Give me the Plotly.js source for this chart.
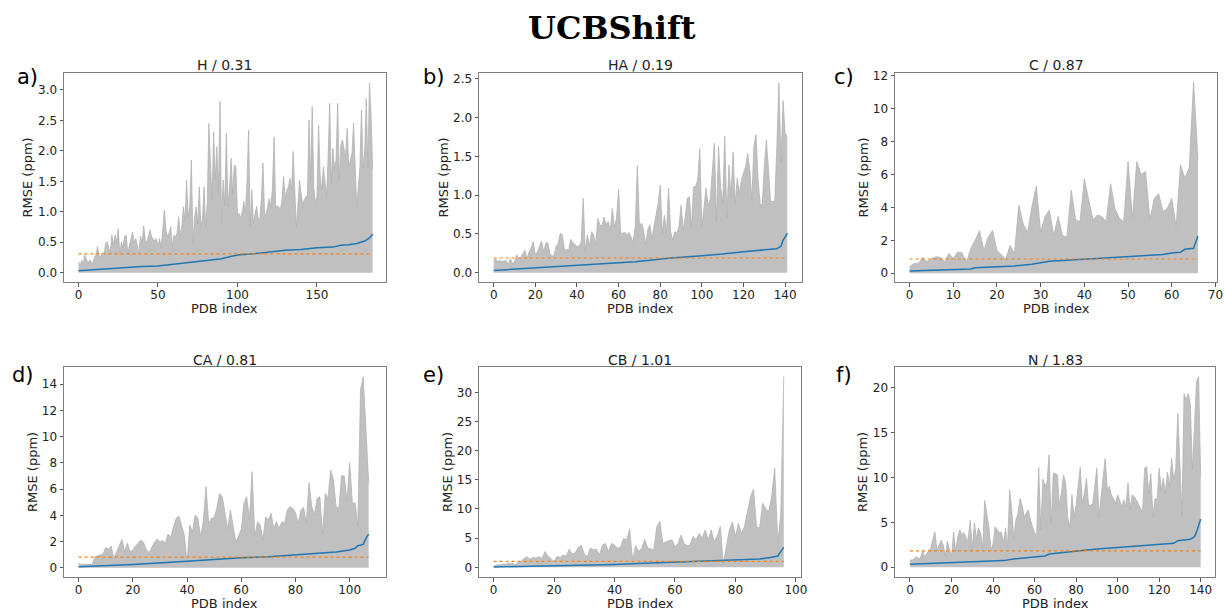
<!DOCTYPE html>
<html>
<head>
<meta charset="utf-8">
<script src="https://cdn.plot.ly/plotly-3.0.1.min.js"></script>
<style>html,body{margin:0;padding:0;background:#fff}#chart{width:1224px;height:610px}</style>
</head>
<body>
<div id="chart"></div>
<script>
// ---------------- DATA ----------------
const panelNames = ["H", "HA", "C", "CA", "CB", "N"];
const panelLetters = ["a)", "b)", "c)", "d)", "e)", "f)"];
const overallMean = [0.31, 0.19, 0.87, 0.81, 1.01, 1.83];

// upper envelope (max RMSE) per PDB index
const upperH = [
0.18,0.12,0.20,0.15,0.29,0.22,0.15,0.21,0.18,0.15,
0.25,0.30,0.43,0.26,0.28,0.33,0.25,0.48,0.51,0.40,
0.32,0.62,0.45,0.62,0.50,0.72,0.32,0.50,0.42,0.59,
0.62,0.32,0.45,0.52,0.67,0.49,0.56,0.45,0.32,0.60,
0.48,0.77,0.54,0.50,0.62,0.70,0.59,0.55,0.52,0.56,
0.43,0.56,0.40,0.70,1.03,0.70,0.59,0.65,0.76,0.43,
0.62,0.58,0.65,0.92,0.60,0.76,1.08,0.86,1.52,0.90,
1.11,1.85,0.48,0.90,1.08,0.80,1.41,0.73,0.90,1.41,
0.76,1.14,2.45,1.80,1.20,2.31,1.52,2.07,1.30,2.81,
0.81,1.52,1.10,2.29,1.08,1.40,1.88,1.30,1.77,1.74,
0.95,0.97,0.90,1.00,1.17,0.97,1.50,2.34,0.76,1.36,
0.81,0.95,1.09,0.90,0.86,1.20,1.80,1.00,0.92,1.10,
1.22,1.08,1.40,2.23,1.06,1.10,1.08,1.03,1.20,1.58,
1.20,1.36,1.40,1.55,1.36,1.99,1.20,0.76,1.10,1.52,
1.30,1.11,1.20,1.25,1.28,2.51,1.52,2.73,1.40,1.14,
1.25,2.42,1.60,1.36,1.74,1.50,1.25,1.90,2.78,1.47,
2.04,1.70,1.85,2.78,1.52,2.10,2.18,2.04,1.90,2.37,
1.74,1.85,1.96,2.45,1.71,1.08,1.40,1.74,2.67,1.71,
2.00,2.86,1.71,3.11,2.60,1.70];
const upperHA = [
0.16,0.18,0.14,0.16,0.14,0.15,0.16,0.10,0.18,0.12,
0.14,0.23,0.18,0.20,0.25,0.29,0.18,0.27,0.32,0.40,
0.23,0.27,0.34,0.41,0.27,0.38,0.39,0.25,0.21,0.23,
0.34,0.38,0.51,0.49,0.29,0.30,0.29,0.43,0.39,0.36,
0.34,0.34,0.40,0.96,0.27,0.49,0.34,0.53,0.49,0.36,
0.70,0.62,0.60,0.72,0.62,0.66,0.55,0.83,0.59,0.70,
1.08,0.51,0.51,0.52,0.49,0.52,0.45,0.40,0.59,1.38,
0.60,0.64,0.55,0.36,0.55,0.62,0.44,0.59,0.77,0.90,
1.13,0.51,0.74,0.51,1.09,0.53,0.42,0.53,0.51,0.60,
0.87,0.55,0.72,0.96,0.98,0.59,1.11,1.11,1.20,1.60,
0.59,0.89,1.09,0.87,0.94,1.30,1.67,0.66,1.63,1.11,
0.89,1.76,0.70,1.39,0.98,1.56,0.89,1.22,1.02,1.20,
1.28,1.37,1.54,1.33,0.94,1.63,1.78,1.20,0.89,0.87,
1.37,1.71,1.33,0.92,0.92,0.92,1.60,2.45,1.43,2.22,
1.80,1.75];
const upperC = [
0.40,0.60,0.60,0.97,0.70,0.90,1.00,0.97,0.70,1.20,
0.90,1.30,1.25,0.65,1.50,2.00,2.60,1.40,2.20,2.60,
1.40,1.10,0.85,1.70,1.20,4.15,3.00,2.50,4.05,5.30,
2.50,3.45,3.85,2.30,3.45,2.30,2.20,5.05,3.25,3.15,
5.75,4.45,3.25,3.55,3.45,3.15,5.45,3.95,3.35,3.15,
6.80,3.35,6.80,6.00,6.20,3.25,4.55,4.85,3.75,3.95,
4.55,2.85,6.60,5.80,6.40,11.65,6.90];
const upperCA = [
0.33,0.25,0.27,0.28,0.26,0.25,0.84,0.90,0.97,1.04,
1.55,1.40,1.65,0.71,1.22,1.73,2.16,1.22,1.86,1.22,
1.35,1.65,1.90,2.11,1.91,1.35,1.15,1.60,1.95,2.19,
1.98,2.06,1.86,2.57,2.32,3.13,3.77,3.94,3.26,2.49,
0.33,3.26,2.75,4.02,3.77,2.37,3.51,6.18,3.38,3.77,
3.82,4.53,5.67,5.42,4.15,2.93,4.40,3.13,1.93,2.42,
2.93,4.91,5.42,3.64,7.33,2.37,3.51,3.26,2.11,3.89,
3.64,4.15,3.00,3.51,3.00,3.51,3.38,4.40,4.66,4.53,
4.20,3.38,4.40,4.61,3.38,6.49,4.66,4.02,5.29,5.42,
2.57,5.67,5.29,7.46,6.69,4.66,4.53,7.02,7.00,5.04,
8.02,4.91,4.96,3.13,13.56,14.58,10.00,6.50];
const upperCB = [
0.2,0.4,0.45,0.5,0.6,0.7,0.7,0.5,0.7,1.0,
1.5,1.8,1.4,1.7,1.6,1.8,1.5,2.7,1.9,1.5,
1.0,1.9,1.7,2.1,1.9,3.1,2.3,2.5,3.4,3.8,
2.3,1.8,3.3,3.0,3.1,2.1,3.8,4.1,2.7,4.1,
3.8,3.3,3.5,5.0,4.7,6.5,1.3,3.7,2.7,3.3,
4.8,3.3,3.1,3.0,7.0,7.9,4.1,4.4,4.6,4.7,
3.5,4.1,5.5,4.1,3.7,3.8,5.3,4.7,5.8,5.0,
6.4,4.7,6.4,4.4,5.4,7.0,0.4,3.5,6.4,7.8,
5.3,7.5,5.8,7.0,9.5,12.1,13.4,7.0,6.7,11.0,
10.1,9.5,12.1,17.0,4.1,9.0,32.7];
const upperN = [
0.8,0.8,0.9,1.2,1.0,1.0,1.85,1.2,1.5,1.75,
2.1,3.1,3.95,1.9,2.4,3.0,2.5,1.2,2.9,1.9,
1.2,3.95,1.75,3.4,4.15,3.6,3.85,3.3,3.0,5.2,
1.9,4.95,3.2,4.35,3.8,2.1,7.4,6.0,4.5,1.9,
2.6,4.5,4.2,3.85,3.95,2.65,4.35,2.3,8.6,6.4,
3.2,5.25,6.0,7.65,6.9,5.6,6.0,6.4,5.25,4.5,
3.8,3.6,11.1,4.15,9.8,9.0,9.45,12.5,4.7,10.45,
10.45,10.25,6.75,8.5,10.25,9.35,5.45,4.5,8.05,5.6,
6.9,9.0,11.1,7.1,8.2,9.9,6.9,6.9,7.1,9.0,
11.0,5.6,7.85,9.5,12.1,8.6,9.0,8.0,7.65,7.1,
8.05,7.4,6.75,7.5,6.75,9.4,6.4,8.05,7.85,7.5,
7.0,6.55,6.1,11.0,11.2,8.2,10.45,5.6,7.65,7.5,
11.0,8.6,9.9,8.2,10.6,9.0,12.1,9.7,11.0,17.1,
11.0,5.8,19.3,18.6,19.3,18.2,10.8,15.3,20.6,21.2,
10.0];

// sorted mean RMSE (blue line), read at these PDB indices
const meanIdxH = [0,10,20,30,40,50,60,70,80,90,95,100,110,120,130,140,150,160,165,170,175,180,183,185];
const meanH    = [0.03,0.05,0.07,0.085,0.10,0.11,0.14,0.17,0.19,0.23,0.26,0.29,0.31,0.34,0.37,0.38,0.41,0.42,0.45,0.46,0.48,0.52,0.57,0.63];
const meanIdxHA = [0,20,40,60,68,75,85,100,110,120,130,136,138,139,140,141];
const meanHA    = [0.03,0.06,0.09,0.12,0.14,0.16,0.19,0.22,0.24,0.27,0.29,0.31,0.34,0.42,0.46,0.51];
const meanIdxC = [0,10,14,15,20,24,28,30,32,36,40,44,48,52,56,58,60,62,63,65,66];
const meanC    = [0.14,0.24,0.26,0.34,0.39,0.45,0.55,0.63,0.73,0.79,0.85,0.93,0.97,1.01,1.08,1.14,1.24,1.28,1.46,1.52,2.27];
const meanIdxCA = [0,20,40,50,60,70,80,86,90,95,100,102,103,105,106,107];
const meanCA    = [0.08,0.25,0.50,0.64,0.76,0.84,0.99,1.04,1.09,1.20,1.35,1.48,1.68,1.78,2.24,2.57];
const meanIdxCB = [0,20,40,50,58,60,70,80,88,92,94,95,96];
const meanCB    = [0.06,0.23,0.50,0.70,0.86,0.97,1.09,1.26,1.43,1.71,1.94,2.69,3.43];
const meanIdxN = [0,20,45,50,60,65,67,75,80,90,100,110,120,127,129,135,137,138,140];
const meanN    = [0.33,0.52,0.74,0.93,1.11,1.26,1.48,1.67,1.85,2.04,2.19,2.37,2.56,2.67,2.96,3.11,3.40,3.93,5.37];

// tick values
const yTicks = [[0,0.5,1,1.5,2,2.5,3],[0,0.5,1,1.5,2,2.5],[0,2,4,6,8,10,12],[0,2,4,6,8,10,12,14],[0,5,10,15,20,25,30],[0,5,10,15,20]];
const xTicks = [[0,50,100,150],[0,20,40,60,80,100,120,140],[0,10,20,30,40,50,60,70],[0,20,40,60,80,100],[0,20,40,60,80,100],[0,20,40,60,80,100,120,140]];

// ---------------- LAYOUT / STYLE ----------------
const uppers = [upperH, upperHA, upperC, upperCA, upperCB, upperN];
const meanIdx = [meanIdxH, meanIdxHA, meanIdxC, meanIdxCA, meanIdxCB, meanIdxN];
const means = [meanH, meanHA, meanC, meanCA, meanCB, meanN];

const W = 1224, H = 610;
const px = (a, b) => [a / W, b / W];
const py = (top, bot) => [1 - bot / H, 1 - top / H];
const xDomains = [px(64,386), px(479,802), px(895,1217), px(64,386), px(479,801), px(895,1215)];
const yDomains = [py(73,282), py(73,282), py(73,282), py(367,577), py(367,577), py(367,577)];
const xRanges = [[-9.1,193.4],[-7.06,148.1],[-3.34,70.36],[-5.39,113.4],[-4.84,101.7],[-7.22,146.9]];
const yRanges = [[-0.153,3.279],[-0.120,2.577],[-0.53,12.18],[-0.71,15.32],[-1.66,34.34],[-1.08,22.26]];
const yFormats = ['.1f','.1f','d','d','d','d'];
const yTitleX = [27, 443, 863, 33, 448, 863];
const xTitleY = [308, 308, 308, 603, 603, 603];

const font = "DejaVu Sans, sans-serif";
const traces = [];
const layout = {
  width: W, height: H,
  margin: {l:0, r:0, t:0, b:0},
  paper_bgcolor: '#fff', plot_bgcolor: '#fff',
  showlegend: false,
  font: {family: font, size: 12, color: '#222'},
  annotations: []
};

for (let k = 0; k < 6; k++) {
  const s = k === 0 ? '' : String(k + 1);
  const xa = 'x' + s, ya = 'y' + s;
  const up = uppers[k];
  const idx = up.map((_, i) => i);
  traces.push({x: idx, y: up, xaxis: xa, yaxis: ya, type: 'scatter', mode: 'lines',
    fill: 'tozeroy', fillcolor: '#c0c0c0', line: {color: '#b2b2b2', width: 0.8}, hoverinfo: 'skip'});
  traces.push({x: meanIdx[k], y: means[k], xaxis: xa, yaxis: ya, type: 'scatter', mode: 'lines',
    line: {color: '#1f77b4', width: 1.5}});
  const last = up.length - 1;
  traces.push({x: [0, last], y: [overallMean[k], overallMean[k]], xaxis: xa, yaxis: ya, type: 'scatter', mode: 'lines',
    line: {color: '#ff7f0e', width: 1.2, dash: 'dot'}});

  layout['xaxis' + s] = {
    domain: xDomains[k], range: xRanges[k], anchor: ya,
    tickmode: 'array', tickvals: xTicks[k],
    showgrid: false, zeroline: false, showline: true, mirror: true,
    linecolor: '#7f7f7f', linewidth: 1, ticks: 'outside', ticklen: 3.5, tickcolor: '#555',
    ticklabelstandoff: -2,
    tickfont: {family: font, size: 12, color: '#222'}
  };
  layout['yaxis' + s] = {
    domain: yDomains[k], range: yRanges[k], anchor: xa,
    tickmode: 'array', tickvals: yTicks[k], tickformat: yFormats[k],
    showgrid: false, zeroline: false, showline: true, mirror: true,
    linecolor: '#7f7f7f', linewidth: 1, ticks: 'outside', ticklen: 3.5, tickcolor: '#555',
    tickfont: {family: font, size: 12, color: '#222'}
  };
  const xc = (xDomains[k][0] + xDomains[k][1]) / 2;
  const yc = (yDomains[k][0] + yDomains[k][1]) / 2;
  // axis titles
  layout.annotations.push({text: 'PDB index', xref: 'paper', yref: 'paper',
    x: xc, y: 1 - xTitleY[k] / H, xanchor: 'center', yanchor: 'middle', showarrow: false,
    font: {family: font, size: 13, color: '#222'}});
  layout.annotations.push({text: 'RMSE (ppm)', xref: 'paper', yref: 'paper', textangle: -90,
    x: yTitleX[k] / W, y: yc, xanchor: 'center', yanchor: 'middle', showarrow: false,
    font: {family: font, size: 13, color: '#222'}});
  // subplot title
  const topPx = k < 3 ? 65 : 360;
  layout.annotations.push({text: panelNames[k] + ' / ' + overallMean[k].toFixed(2), xref: 'paper', yref: 'paper',
    x: xc, y: 1 - topPx / H, xanchor: 'center', yanchor: 'middle', showarrow: false,
    font: {family: font, size: 14, color: '#222'}});
  // panel letter
  const labX = [27, 434, 844, 23, 433, 844][k];
  const labY = k < 3 ? 77 : 375;
  layout.annotations.push({text: panelLetters[k], xref: 'paper', yref: 'paper',
    x: labX / W, y: 1 - labY / H, xanchor: 'center', yanchor: 'middle', showarrow: false,
    font: {family: font, size: 21, color: '#000'}});
}
layout.annotations.push({text: '<b>UCBShift</b>', xref: 'paper', yref: 'paper', x: 0.5, y: 1 - 28 / H,
  xanchor: 'center', yanchor: 'middle', showarrow: false,
  font: {family: 'DejaVu Serif, serif', size: 32, color: '#000'}});

Plotly.newPlot('chart', traces, layout, {staticPlot: true, displayModeBar: false});
</script>
</body>
</html>
